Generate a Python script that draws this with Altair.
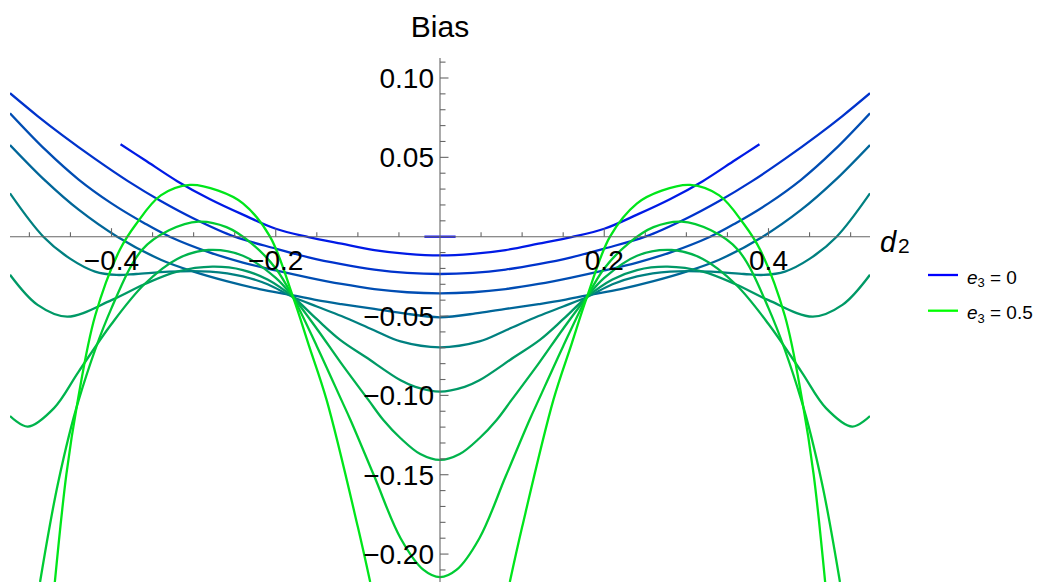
import altair as alt
import pandas as pd

# ---- plot ranges ----
X_MIN, X_MAX = -0.5236, 0.5236
Y_MIN, Y_MAX = -0.2176, 0.1126

# ---- curves: e3 value, right-half d2 samples and bias readings (chart is mirror-symmetric in d2) ----
E3 = [0.0, 0.05, 0.10, 0.15, 0.20, 0.25, 0.30, 0.35, 0.40, 0.45]

K0_D2 = [0.0, 0.019]
K0_BIAS = [0.0, 0.0]

K1_D2 = [0.0, 0.04, 0.08, 0.12, 0.16, 0.2, 0.24, 0.28, 0.32, 0.36, 0.389]
K1_BIAS = [-0.0118, -0.0108, -0.0084, -0.0044, -0.0002, 0.0050, 0.0139, 0.0236, 0.0350, 0.0485, 0.0582]

K2_D2 = [0.0, 0.04, 0.08, 0.12, 0.16, 0.2, 0.25, 0.3, 0.34, 0.38, 0.42, 0.46, 0.49, 0.5236]
K2_BIAS = [-0.0235, -0.0228, -0.0207, -0.0173, -0.0130, -0.0075, 0.0, 0.0115, 0.0225, 0.0350, 0.0490, 0.0640, 0.0760, 0.0904]

K3_D2 = [0.0, 0.04, 0.08, 0.12, 0.16, 0.2, 0.24, 0.28, 0.329, 0.36, 0.40, 0.44, 0.48, 0.5236]
K3_BIAS = [-0.0357, -0.0350, -0.0330, -0.0298, -0.0258, -0.0213, -0.0163, -0.0100, 0.0, 0.0085, 0.0210, 0.0360, 0.0545, 0.0778]

K4_D2 = [0.0, 0.048, 0.08, 0.12, 0.15, 0.179, 0.22, 0.26, 0.30, 0.34, 0.393, 0.44, 0.48, 0.5236]
K4_BIAS = [-0.0508, -0.0480, -0.0455, -0.0425, -0.0400, -0.0370, -0.0330, -0.0280, -0.0220, -0.0145, 0.0, 0.0170, 0.0350, 0.0578]

K5_D2 = [0.0, 0.048, 0.081, 0.12, 0.15, 0.179, 0.21, 0.24, 0.28, 0.33, 0.37, 0.394, 0.42, 0.45, 0.483, 0.5236]
K5_BIAS = [-0.0697, -0.0660, -0.0588, -0.0500, -0.0440, -0.0380, -0.0300, -0.0250, -0.0220, -0.0220, -0.0235, -0.0241, -0.0220, -0.0140, 0.0, 0.0273]

K6_D2 = [0.0, 0.03, 0.048, 0.09, 0.1216, 0.15, 0.179, 0.21, 0.24, 0.277, 0.32, 0.36, 0.40, 0.454, 0.49, 0.5236]
K6_BIAS = [-0.0976, -0.0946, -0.0905, -0.0760, -0.0650, -0.0520, -0.0380, -0.0270, -0.0210, -0.0189, -0.0220, -0.0300, -0.0400, -0.0504, -0.0430, -0.0240]

K7_D2 = [0.0, 0.024, 0.048, 0.069, 0.087, 0.12, 0.15, 0.179, 0.2, 0.24, 0.282, 0.32, 0.36, 0.40, 0.44, 0.47, 0.502, 0.5236]
K7_BIAS = [-0.1407, -0.1370, -0.1270, -0.1155, -0.1030, -0.0800, -0.0580, -0.0380, -0.0260, -0.0120, -0.0084, -0.0140, -0.0300, -0.0550, -0.0850, -0.1080, -0.1197, -0.1130]

K8_D2 = [0.0, 0.02, 0.048, 0.08, 0.109, 0.12, 0.15, 0.179, 0.2, 0.23, 0.26, 0.294, 0.33, 0.363, 0.40, 0.44, 0.465, 0.487]
K8_BIAS = [-0.2145, -0.2100, -0.1900, -0.1510, -0.1155, -0.1030, -0.0690, -0.0380, -0.0200, -0.0040, 0.0060, 0.0095, 0.0040, -0.0084, -0.0450, -0.1030, -0.1550, -0.2176]

K9_D2 = [0.085, 0.1, 0.138, 0.16, 0.179, 0.207, 0.24, 0.27, 0.3045, 0.34, 0.37, 0.39, 0.42, 0.441, 0.455, 0.469]
K9_BIAS = [-0.2176, -0.1830, -0.1030, -0.0680, -0.0380, 0.0, 0.0210, 0.0290, 0.0326, 0.0260, 0.0080, -0.0084, -0.0500, -0.1030, -0.1500, -0.2176]

CURVES = [
    (K0_D2, K0_BIAS), (K1_D2, K1_BIAS), (K2_D2, K2_BIAS), (K3_D2, K3_BIAS), (K4_D2, K4_BIAS),
    (K5_D2, K5_BIAS), (K6_D2, K6_BIAS), (K7_D2, K7_BIAS), (K8_D2, K8_BIAS), (K9_D2, K9_BIAS),
]

# ---- axis ticks and labels ----
X_MINOR_TICKS = [-0.5, -0.45, -0.35, -0.3, -0.25, -0.15, -0.1, -0.05,
                 0.05, 0.1, 0.15, 0.25, 0.3, 0.35, 0.45, 0.5]
X_MAJOR_TICKS = [-0.4, -0.2, 0.2, 0.4]
X_TICK_LABELS = ["\u22120.4", "\u22120.2", "0.2", "0.4"]

Y_MAJOR_TICKS = [0.10, 0.05, -0.05, -0.10, -0.15, -0.20]
Y_TICK_LABELS = ["0.10", "0.05", "\u22120.05", "\u22120.10", "\u22120.15", "\u22120.20"]
Y_MINOR_TICKS = [0.11, 0.09, 0.08, 0.07, 0.06, 0.04, 0.03, 0.02, 0.01,
                 -0.01, -0.02, -0.03, -0.04, -0.06, -0.07, -0.08, -0.09,
                 -0.11, -0.12, -0.13, -0.14, -0.16, -0.17, -0.18, -0.19, -0.21]

LEGEND_E3 = ["0", "0.5"]
LEGEND_COLORS = ["#0000ff", "#00ff00"]

# ---- build the long table ----
rows = []
seg = 0
for k, (d2s, bs) in enumerate(CURVES):
    e3 = E3[k]
    if d2s[0] > 0:
        left = [(-d, b) for d, b in zip(reversed(d2s), reversed(bs))]
        right = list(zip(d2s, bs))
        for part in (left, right):
            for i, (d, b) in enumerate(part):
                rows.append({"d2": d, "bias": b, "e3": e3, "seg": seg, "i": i})
            seg += 1
    else:
        pts = [(-d, b) for d, b in zip(reversed(d2s), reversed(bs)) if d > 0] + list(zip(d2s, bs))
        for i, (d, b) in enumerate(pts):
            rows.append({"d2": d, "bias": b, "e3": e3, "seg": seg, "i": i})
        seg += 1
df = pd.DataFrame(rows)

FONT = "Liberation Sans"
AXIS_GRAY = "#666666"
W, H = 860, 524

xs = alt.Scale(domain=[X_MIN, X_MAX], nice=False, zero=False)
ys = alt.Scale(domain=[Y_MIN, Y_MAX], nice=False, zero=False)

curves = alt.Chart(df).mark_line(strokeWidth=2.3, interpolate="catmull-rom", clip=True).encode(
    x=alt.X("d2:Q", scale=xs, axis=None),
    y=alt.Y("bias:Q", scale=ys, axis=None),
    color=alt.Color("e3:Q", scale=alt.Scale(domain=[0, 0.5], range=LEGEND_COLORS,
                                            interpolate="rgb"), legend=None),
    detail="seg:N",
    order="i:Q",
)

# axes lines
x_axis = alt.Chart(pd.DataFrame({"a": [X_MIN], "b": [X_MAX], "z": [0.0]})).mark_rule(
    color=AXIS_GRAY, strokeWidth=1.1).encode(x="a:Q", x2="b:Q", y="z:Q")
y_axis = alt.Chart(pd.DataFrame({"a": [Y_MIN], "b": [Y_MAX], "z": [0.0]})).mark_rule(
    color=AXIS_GRAY, strokeWidth=1.1).encode(y="a:Q", y2="b:Q", x="z:Q")

def xticks(vals, length):
    return alt.Chart(pd.DataFrame({"t": vals, "z": [0.0] * len(vals)})).mark_rule(
        color=AXIS_GRAY, strokeWidth=1.1, y2Offset=-length).encode(
        x="t:Q", y="z:Q", y2="z:Q")

def yticks(vals, length):
    return alt.Chart(pd.DataFrame({"t": vals, "z": [0.0] * len(vals)})).mark_rule(
        color=AXIS_GRAY, strokeWidth=1.1, x2Offset=length).encode(
        y="t:Q", x="z:Q", x2="z:Q")

x_labels = alt.Chart(pd.DataFrame({"t": X_MAJOR_TICKS, "lab": X_TICK_LABELS,
                                   "z": [0.0] * len(X_MAJOR_TICKS)})).mark_text(
    font=FONT, fontSize=28, align="center", baseline="alphabetic", dy=33, color="black").encode(
    x="t:Q", y="z:Q", text="lab:N")
y_labels = alt.Chart(pd.DataFrame({"t": Y_MAJOR_TICKS, "lab": Y_TICK_LABELS,
                                   "z": [0.0] * len(Y_MAJOR_TICKS)})).mark_text(
    font=FONT, fontSize=28, align="right", baseline="alphabetic", dx=-6, dy=10, color="black").encode(
    y="t:Q", x="z:Q", text="lab:N")

bias_title = alt.Chart(pd.DataFrame({"lab": ["Bias"], "z": [0.0]})).mark_text(
    font=FONT, fontSize=30, align="center", baseline="alphabetic", color="black").encode(
    x="z:Q", y=alt.value(-21), text="lab:N")
d_label = alt.Chart(pd.DataFrame({"lab": ["d"], "z": [0.0]})).mark_text(
    font=FONT, fontSize=29, fontStyle="italic", align="left", baseline="alphabetic",
    dy=15, color="black").encode(
    x=alt.value(W + 10), y="z:Q", text="lab:N")
d_sub = alt.Chart(pd.DataFrame({"lab": ["2"], "z": [0.0]})).mark_text(
    font=FONT, fontSize=21, align="left", baseline="alphabetic", dy=16.5, color="black").encode(
    x=alt.value(W + 28), y="z:Q", text="lab:N")

# manual legend
legend_layers = []
for j, (val, col) in enumerate(zip(LEGEND_E3, LEGEND_COLORS)):
    ly = 217 + j * 35.7
    legend_layers.append(alt.Chart(pd.DataFrame({"v": [val]})).mark_rule(
        color=col, strokeWidth=2.3).encode(
        x=alt.value(W + 58), x2=alt.value(W + 88), y=alt.value(ly)))
    legend_layers.append(alt.Chart(pd.DataFrame({"v": ["e"]})).mark_text(
        font=FONT, fontSize=19, fontStyle="italic", align="left", baseline="alphabetic",
        color="black").encode(x=alt.value(W + 97), y=alt.value(ly + 8.5), text="v:N"))
    legend_layers.append(alt.Chart(pd.DataFrame({"v": ["3"]})).mark_text(
        font=FONT, fontSize=13, align="left", baseline="alphabetic",
        color="black").encode(x=alt.value(W + 107.5), y=alt.value(ly + 12), text="v:N"))
    legend_layers.append(alt.Chart(pd.DataFrame({"v": ["= " + val]})).mark_text(
        font=FONT, fontSize=19, align="left", baseline="alphabetic",
        color="black").encode(x=alt.value(W + 120), y=alt.value(ly + 8.5), text="v:N"))

chart = alt.layer(
    curves,
    x_axis, y_axis,
    xticks(X_MINOR_TICKS, 4.5), xticks(X_MAJOR_TICKS, 8.5),
    yticks(Y_MINOR_TICKS, 5.5), yticks(Y_MAJOR_TICKS, 8.5),
    x_labels, y_labels, bias_title, d_label, d_sub,
    *legend_layers,
).properties(
    width=W, height=H,
    autosize=alt.AutoSizeParams(type="none"),
    padding={"left": 10, "top": 58, "right": 172, "bottom": 0},
).configure(background="white", view=alt.ViewConfig(stroke=None))

chart.save("out.html", embed_options={"renderer": "svg", "actions": False})
